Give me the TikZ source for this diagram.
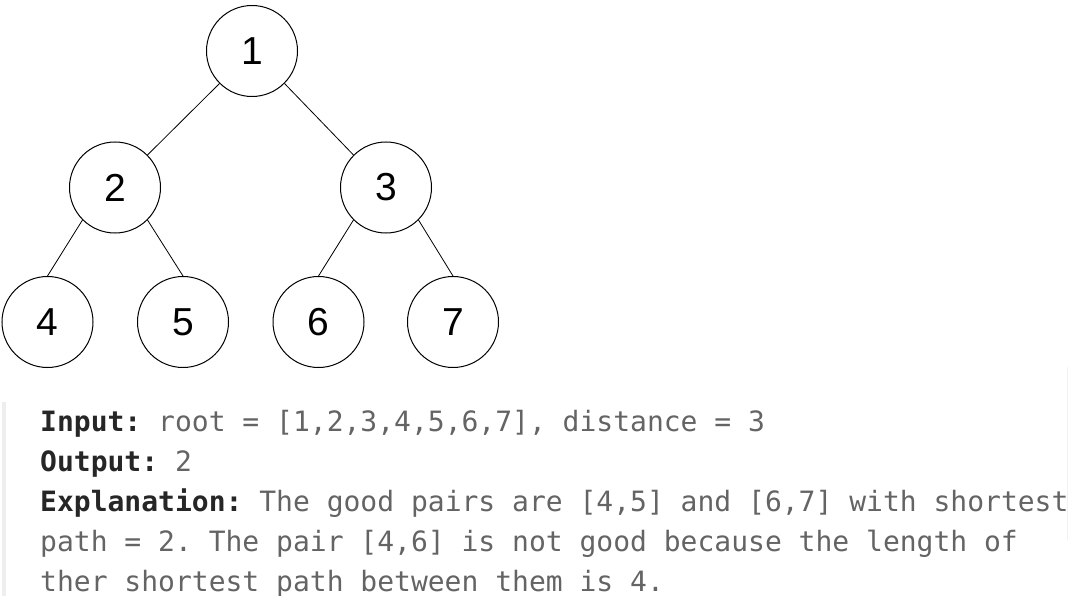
\documentclass[tikz,border=0pt]{standalone}
\usepackage{fontspec}
\setmainfont{Liberation Sans}
\setmonofont{DejaVu Sans Mono}
\usepackage{xcolor}
\usepackage{tikz}
\usetikzlibrary{positioning}
\definecolor{labelColor}{HTML}{262626}
\definecolor{codeColor}{HTML}{646464}
\definecolor{barColor}{HTML}{EEEEEE}

\begin{document}
\begin{tikzpicture}[x=1pt, y=-1pt,
    treenode/.style={circle, draw, line width=1pt, minimum size=91pt, inner sep=0pt,
        font=\fontsize{39}{39}\selectfont},
    codeline/.style={anchor=base west, inner sep=0pt, text=codeColor,
        font=\ttfamily\fontsize{28}{28}\selectfont}]
    \useasboundingbox (0,0) rectangle (1068,596);
    % tree
    \node[treenode] (n1) at (252,51) {1};
    \node[treenode] (n2) at (115,187.5) {2};
    \node[treenode] (n3) at (386,187.5) {3};
    \foreach \name/\x/\lbl in {n4/47.5/4, n5/183/5, n6/318.5/6, n7/453/7}
        \node[treenode] (\name) at (\x,322) {\lbl};
    \draw[line width=0.8pt] (n1.south west) -- (n2.north east);
    \draw[line width=0.8pt] (n1.south east) -- (n3.north west);
    \foreach \p/\c/\a in {n2/n4/south west, n2/n5/south east, n3/n6/south west, n3/n7/south east}
        \draw[line width=0.8pt] (\p.\a) -- (\c.north);
    % example block
    \fill[barColor] (2,402) rectangle (6,596);
    \draw[gray!10, line width=1pt] (1067,367) -- (1067,540);
    \node[codeline] (input) at (40,431)
        {\textbf{\color{labelColor}Input:} root = [1,2,3,4,5,6,7], distance = 3};
    \node[codeline] (output) at (40,471) {\textbf{\color{labelColor}Output:} 2};
    \node[codeline] (expl1) at (40,511)
        {\textbf{\color{labelColor}Explanation:} The good pairs are [4,5] and [6,7] with shortest};
    \node[codeline] (expl2) at (40,551)
        {path = 2. The pair [4,6] is not good because the length of};
    \node[codeline] (expl3) at (40,591) {ther shortest path between them is 4.};
\end{tikzpicture}
\end{document}
